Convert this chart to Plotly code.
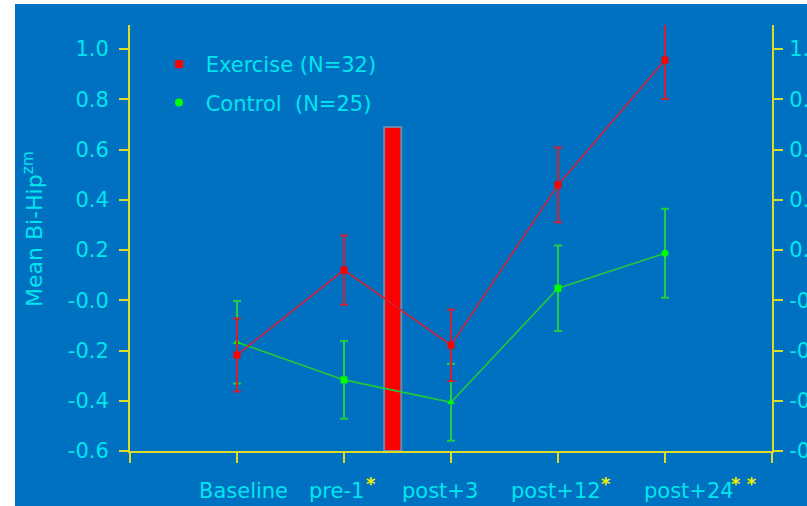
import plotly.graph_objects as go

# ---------------- data ----------------
categories = ["Baseline", "pre-1", "post+3", "post+12", "post+24"]
cat_pos = [1, 2, 3, 4, 5]
label_stars = ["", "*", "", "*", "* *"]

exercise_mean = [-0.218, 0.120, -0.179, 0.459, 0.956]
exercise_se = [0.145, 0.138, 0.142, 0.149, 0.155]

control_mean = [-0.167, -0.317, -0.406, 0.048, 0.187]
control_se = [0.164, 0.155, 0.153, 0.170, 0.177]

intervention_x = [2.455]
intervention_top = [0.69]

y_tickvals = [-0.6, -0.4, -0.2, 0.0, 0.2, 0.4, 0.6, 0.8, 1.0]
y_ticktext = ["-0.6", "-0.4", "-0.2", "-0.0", "0.2", "0.4", "0.6", "0.8", "1.0"]

# ---------------- style ----------------
BG = "#0070C0"
YELLOW = "#dcdc28"
CYAN = "#00e5ee"
STAR = "#f0f000"
FONT = "DejaVu Sans"
FS = 21

Y_MIN, Y_MAX = -0.6, 1.0955
X_MIN, X_MAX = 0, 6

control_symbols = ["triangle-up", "square", "triangle-up", "square", "circle"]
label_xshift = [-40, -37, -51, -49, -23]
star_xshift = [0, 20, 0, 41, 64]

fig = go.Figure()

# intervention bar
fig.add_trace(go.Bar(
    x=intervention_x,
    y=[t - Y_MIN for t in intervention_top],
    base=[Y_MIN] * len(intervention_x),
    width=0.16,
    marker=dict(color="#ff0000", line=dict(color="#6a86a8", width=2)),
    showlegend=False, hoverinfo="skip",
))

# control
fig.add_trace(go.Scatter(
    x=cat_pos, y=control_mean, mode="lines+markers",
    line=dict(color="#22c83c", width=1.6),
    marker=dict(color="#00ff00", size=7, symbol=control_symbols),
    error_y=dict(type="data", array=control_se, visible=True,
                 color="#22cc44", thickness=2, width=4),
    showlegend=False, cliponaxis=False,
))

# exercise
fig.add_trace(go.Scatter(
    x=cat_pos, y=exercise_mean, mode="lines+markers",
    line=dict(color="#d42035", width=1.6),
    marker=dict(color="#ff0000", size=7, symbol="square"),
    error_y=dict(type="data", array=exercise_se, visible=True,
                 color="#cc2035", thickness=2, width=4),
    showlegend=False, cliponaxis=False,
))

# invisible trace tied to the right-hand axis so it gets drawn with ticks
fig.add_trace(go.Scatter(
    x=[None], y=[None], yaxis="y2", mode="markers", showlegend=False, hoverinfo="skip",
))

# legend-only entries
fig.add_trace(go.Scatter(
    x=[None], y=[None], mode="markers",
    marker=dict(color="#ff0000", size=8, symbol="square"),
    name="\u00a0Exercise (N=32)", legendgroup="a", legendrank=1,
))
fig.add_trace(go.Scatter(
    x=[None], y=[None], mode="markers",
    marker=dict(color="#00ff00", size=8, symbol="circle"),
    name="\u00a0Control\u00a0\u00a0(N=25)", legendgroup="b", legendrank=2,
))

# x category labels (+ yellow significance stars)
for i, (c, s) in enumerate(zip(categories, label_stars)):
    fig.add_annotation(
        x=cat_pos[i], xref="x", y=0, yref="paper",
        xanchor="left", yanchor="top", xshift=label_xshift[i], yshift=-26,
        text=c, showarrow=False,
        font=dict(family=FONT, size=FS, color=CYAN),
    )
    if s:
        fig.add_annotation(
            x=cat_pos[i], xref="x", y=0, yref="paper",
            xanchor="left", yanchor="top", xshift=star_xshift[i], yshift=-20,
            text="<b>%s</b>" % s.replace(" ", "\u00a0"), showarrow=False,
            font=dict(family=FONT, size=18, color=STAR),
        )

# y-axis title
fig.add_annotation(
    x=(33 - 130) / 642, xref="paper", y=(451 - 229) / 426, yref="paper",
    text="Mean Bi-Hip<sup>zm</sup>", textangle=-90, showarrow=False,
    xanchor="center", yanchor="middle",
    font=dict(family=FONT, size=22, color=CYAN),
)

# white strips at left and top edges of the picture
fig.add_shape(type="rect", xref="paper", yref="paper",
              x0=-0.25, x1=(15 - 130) / 642, y0=-0.2, y1=1.1,
              fillcolor="white", line_width=0, layer="above")
fig.add_shape(type="rect", xref="paper", yref="paper",
              x0=-0.25, x1=1.1, y0=(451 - 4) / 426, y1=1.1,
              fillcolor="white", line_width=0, layer="above")

axis_common = dict(
    range=[Y_MIN, Y_MAX], tickmode="array", tickvals=y_tickvals, ticktext=y_ticktext,
    ticks="outside", ticklen=9, tickwidth=2, tickcolor=YELLOW,
    showline=True, linecolor=YELLOW, linewidth=2,
    showgrid=False, zeroline=False, ticklabeloverflow="allow", automargin=False,
    tickfont=dict(family=FONT, size=FS, color=CYAN),
)

fig.update_layout(
    width=807, height=506, autosize=False,
    margin=dict(l=130, r=35, t=25, b=55, pad=0),
    paper_bgcolor=BG, plot_bgcolor=BG,
    barmode="overlay",
    xaxis=dict(range=[X_MIN, X_MAX], tickmode="array", tickvals=[0, 1, 2, 3, 4, 5, 6],
               showticklabels=False, ticks="outside", ticklen=10, tickwidth=2,
               tickcolor=YELLOW, showline=True, linecolor=YELLOW, linewidth=2,
               showgrid=False, zeroline=False, automargin=False),
    yaxis=dict(**axis_common, ticklabelstandoff=6),
    yaxis2=dict(**axis_common, overlaying="y", side="right", anchor="x",
                ticklabelstandoff=2),
    legend=dict(x=(159 - 130) / 642, y=(451 - 44) / 426, xanchor="left", yanchor="top",
                bgcolor="rgba(0,0,0,0)", font=dict(family=FONT, size=FS, color=CYAN),
                traceorder="grouped", tracegroupgap=8, itemwidth=30),
    showlegend=True,
)

fig.write_html("out.html", config={"displayModeBar": False})

# remove the browser's default page margin so the figure sits at the window's corner
with open("out.html", "r", encoding="utf-8") as f:
    html = f.read()
html = html.replace("<head>", "<head><style>html,body{margin:0;padding:0;overflow:hidden;}</style>", 1)
with open("out.html", "w", encoding="utf-8") as f:
    f.write(html)
